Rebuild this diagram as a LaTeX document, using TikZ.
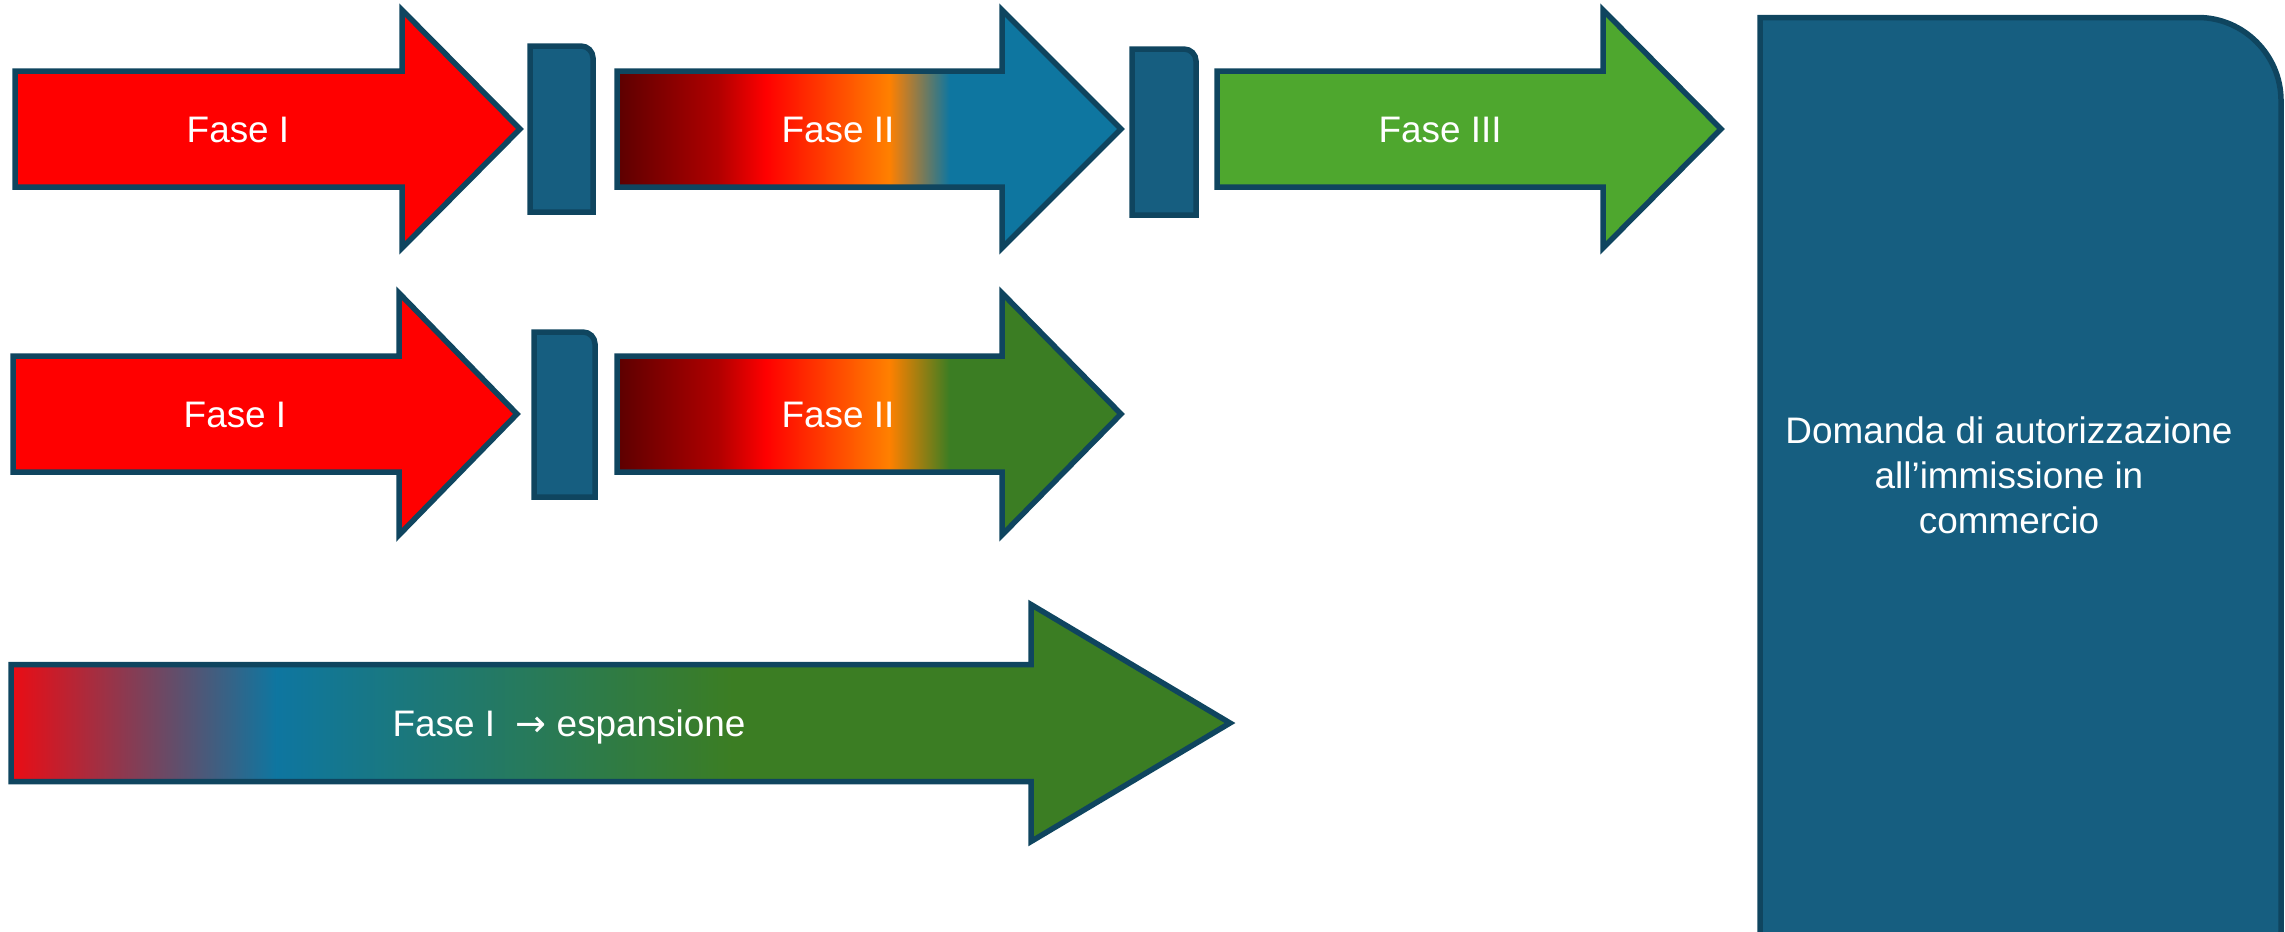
\documentclass[tikz,border=0pt]{standalone}
\usepackage{fontspec}
\setmainfont{Liberation Sans}
\newfontfamily\arrowfont{DejaVu Sans}
\definecolor{strokecol}{RGB}{15,69,95}
\definecolor{boxfill}{RGB}{22,94,128}
\definecolor{arblue}{RGB}{14,118,160}
\definecolor{argreen}{RGB}{59,125,35}
\definecolor{ltgreen}{RGB}{78,167,46}
\definecolor{dkred}{RGB}{92,0,0}
\definecolor{midred}{RGB}{176,0,0}
\definecolor{faseRed}{RGB}{255,0,0}
\definecolor{orng}{RGB}{255,128,0}
\definecolor{rowred}{RGB}{235,12,20}
\pgfdeclarehorizontalshading{gradBlue}{100bp}{color(0bp)=(dkred); color(25bp)=(dkred); color(35bp)=(midred); color(39.75bp)=(faseRed); color(52bp)=(orng); color(58bp)=(arblue); color(100bp)=(arblue)}
\pgfdeclarehorizontalshading{gradGreen}{100bp}{color(0bp)=(dkred); color(25bp)=(dkred); color(35bp)=(midred); color(39.75bp)=(faseRed); color(52bp)=(orng); color(58bp)=(argreen); color(100bp)=(argreen)}
\pgfdeclarehorizontalshading{gradExp}{100bp}{color(0bp)=(rowred); color(25bp)=(rowred); color(35.9bp)=(arblue); color(54.6bp)=(argreen); color(100bp)=(argreen)}
% #1 style, #2 x left, #3 x head base, #4 x tip, #5 y centre, #6 half body, #7 half head
\newcommand{\blockarrow}[7]{%
  \draw[#1] (#2,{#5-#6}) -- (#3,{#5-#6}) -- (#3,{#5-#7}) -- (#4,#5) -- (#3,{#5+#7}) -- (#3,{#5+#6}) -- (#2,{#5+#6}) -- cycle;}
\begin{document}
\begin{tikzpicture}[x=0.1mm,y=-0.1mm,
  outline/.style={draw=strokecol, line width=0.55mm},
  lbl/.style={text=white, font=\fontsize{10.5}{12.8}\selectfont, inner sep=0pt, anchor=base}]
\useasboundingbox (0,0) rectangle (2285,931);
% row 1
\blockarrow{outline, fill=faseRed}{15}{402}{520}{129}{58}{119}
\draw[outline, fill=boxfill] (530,212) -- (530,46) -- (581,46) .. controls (587.6,46) and (593,51.4) .. (593,58) -- (593,212) -- cycle;
\blockarrow{outline, shade, shading=gradBlue}{617}{1002}{1121}{129}{58}{119}
\draw[outline, fill=boxfill] (1132,215) -- (1132,49) -- (1184,49) .. controls (1190.6,49) and (1196,54.4) .. (1196,61) -- (1196,215) -- cycle;
\blockarrow{outline, fill=ltgreen}{1217}{1603}{1721}{129}{58}{119}
% row 2
\blockarrow{outline, fill=faseRed}{13}{399}{517}{414}{58}{121}
\draw[outline, fill=boxfill] (534,497) -- (534,332) -- (583,332) .. controls (589.6,332) and (595,337.4) .. (595,344) -- (595,497) -- cycle;
\blockarrow{outline, shade, shading=gradGreen}{617}{1002}{1121}{414}{58}{121}
% row 3
\blockarrow{outline, shade, shading=gradExp}{11}{1031}{1230}{723}{58.5}{118.5}
% big box
\begin{scope}
\clip (0,0) rectangle (2285,931);
\draw[outline, fill=boxfill] (1760,960) -- (1760,17.5) -- (2198,17.5) .. controls (2243.8,17.5) and (2281,55.3) .. (2281,100.5) -- (2281,960) -- cycle;
\end{scope}
% labels
\node[lbl] (t1) at (238,142) {Fase I};
\node[lbl] (t2) at (838,142) {Fase II};
\node[lbl] (t3) at (1440,142) {Fase III};
\node[lbl] (t4) at (235,427) {Fase I};
\node[lbl] (t5) at (838,427) {Fase II};
\node[lbl] (t6) at (569,736) {Fase I\ \ {\arrowfont →} espansione};
\node[lbl, anchor=center, align=center] (dom) at (2009,475) {Domanda di autorizzazione\\all’immissione in\\commercio};
\end{tikzpicture}
\end{document}
